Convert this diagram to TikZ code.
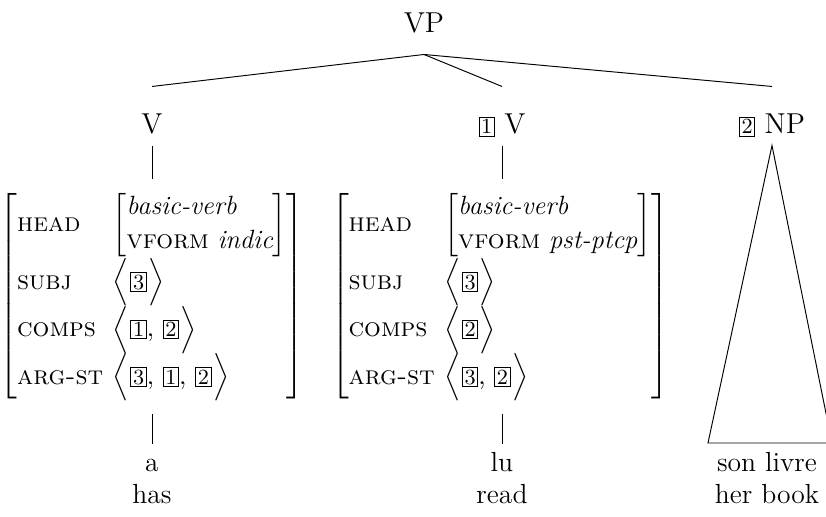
\documentclass[tikz,border=0pt]{standalone}
\usepackage{amsmath}
\usepackage{amssymb}
\usepackage{tikz}
\usetikzlibrary{
	positioning,
	calc
}

\newcommand{\tagbox}[1]{{\setlength{\fboxsep}{0.7pt}\setlength{\fboxrule}{0.4pt}\fbox{\fontsize{9}{10}\selectfont #1}}}
\newcommand{\feat}[1]{\textsc{#1}}
\newcommand{\headval}[2]{\renewcommand{\arraystretch}{1.05}\left[\begin{array}{@{}l@{}}\textit{#1}\\ \feat{vform}\ \textit{#2}\end{array}\right]}
\newcommand{\lst}[1]{\Bigl\langle\mkern1mu #1\mkern1mu\Bigr\rangle}

\begin{document}
\begin{tikzpicture}[x=0.41667pt, y=-0.41667pt,
		every node/.style={font=\fontsize{11}{13.5}\selectfont, inner sep=0pt},
		cat/.style={anchor=base, font=\fontsize{12}{14}\selectfont, text height=19.6pt, text depth=4.6pt},
		avm/.style={anchor=center, execute at begin node={\renewcommand{\arraystretch}{1.0}}},
		word/.style={anchor=north, align=center, font=\fontsize{11.5}{13.5}\selectfont},
		branch/.style={shorten >=4.6pt},
		leaf/.style={shorten <=5pt, shorten >=1.7pt}]
		
		\useasboundingbox (0,0) rectangle (826,517);
		
		\node[anchor=base, font=\fontsize{12}{14}\selectfont, text depth=8.75pt] (vp) at (424,33) {VP};
		
		\node[cat] (v) at (152,134) {V};
		\node[cat] (vpart) at (502,134) {\tagbox{1} V};
		\node[cat] (np) at (772,134) {\tagbox{2} NP};
		
		\draw (vp.south) -- (v.north);
		\draw (vp.south) -- (vpart.north);
		\draw (vp.south) -- (np.north);
		
		\node[avm] (avma) at (152,296) {$\left[\begin{array}{@{}l@{\hspace{4pt}}l@{}}
			\feat{head} & \headval{basic-verb}{indic}\\
			\feat{subj} & \lst{\tagbox{3}}\\
			\feat{comps} & \lst{\tagbox{1},\,\tagbox{2}}\\
			\feat{arg-st} & \lst{\tagbox{3},\,\tagbox{1},\,\tagbox{2}}
			\end{array}\right]$};
		
		\node[avm] (avmb) at (500,296) {$\left[\begin{array}{@{}l@{\hspace{4pt}}l@{}}
			\feat{head} & \headval{basic-verb}{pst-ptcp}\\
			\feat{subj} & \lst{\tagbox{3}}\\
			\feat{comps} & \lst{\tagbox{2}}\\
			\feat{arg-st} & \lst{\tagbox{3},\,\tagbox{2}}
			\end{array}\right]$};
		
		\draw[branch] (v.south) -- (avma.north -| v.south);
		\draw[branch] (vpart.south) -- (avmb.north -| vpart.south);
		
		\node[word] (wa) at (152,448) {\strut a\\has};
		\node[word] (wlu) at (502,448) {\strut lu\\read};
		\node[word] (wlivre) at (767,448) {\strut son livre\\her book};
		
		\draw[leaf] (avma.south -| wa.north) -- (wa.north);
		\draw[leaf] (avmb.south -| wlu.north) -- (wlu.north);
		
		\coordinate (npl) at (708,443);
		\coordinate (npr) at (832,443);
		\draw (np.south) -- (npl) -- (npr) -- cycle;
		
	\end{tikzpicture}
\end{document}
